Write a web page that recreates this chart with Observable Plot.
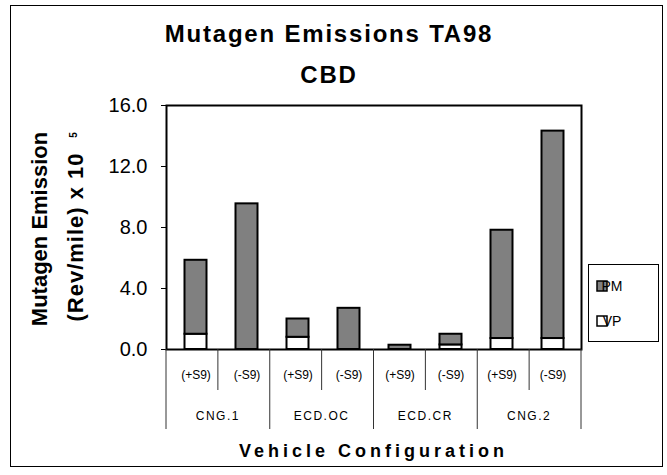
<!DOCTYPE html>
<html><head><meta charset="utf-8">
<script src="https://cdn.jsdelivr.net/npm/d3@7"></script>
<script src="https://cdn.jsdelivr.net/npm/@observablehq/plot@0.6"></script>
<style>body{margin:0;background:#fff} #chart{width:667px;height:475px}</style>
</head><body><div id="chart"></div>
<script>
const groups = ["CNG.1", "ECD.OC", "ECD.CR", "CNG.2"];
const conditions = ["(+S9)", "(-S9)"];
const series = ["PM", "VP"];
const seriesColors = ["#808080", "#ffffff"];
const vpValues = [1.0, 0, 0.8, 0, 0, 0.3, 0.72, 0.72];
const pmValues = [4.85, 9.55, 1.2, 2.7, 0.28, 0.7, 7.1, 13.6];
const yTicks = [0, 4, 8, 12, 16];
const titleLines = ["Mutagen Emissions TA98", "CBD"];
const yTitleLines = ["Mutagen Emission", "(Rev/mile) x 10", "5"];
const xTitle = "Vehicle Configuration";

const FONT = "'Liberation Sans', Arial, Helvetica, sans-serif";
const keys = groups.flatMap(g => conditions.map(c => g + " " + c));
const rows = [];
keys.forEach((k, i) => rows.push({key: k, series: "VP", value: vpValues[i]}));
keys.forEach((k, i) => rows.push({key: k, series: "PM", value: pmValues[i]}));

const chart = Plot.plot({
  width: 667, height: 475,
  marginLeft: 166, marginRight: 86, marginTop: 105, marginBottom: 126,
  style: {fontFamily: FONT, background: "#fff", color: "#000", overflow: "visible"},
  x: {domain: keys, padding: 0, axis: null},
  y: {domain: [0, 16]},
  color: {domain: series, range: seriesColors},
  marks: [
    Plot.barY(rows.filter(d => d.value > 0), {
      x: "key", y: "value", fill: "series", stroke: "#000", strokeWidth: 2,
      insetLeft: 14.5, insetRight: 14.5
    }),
    Plot.frame({stroke: "#000", strokeWidth: 2}),
    Plot.axisY({ticks: yTicks, tickFormat: d3.format(".1f"), tickSize: 5, tickPadding: 14,
      fontSize: 20, label: null, anchor: "left", stroke: "#000", strokeWidth: 1}),
    Plot.text(keys, {x: d => d, text: (d, i) => conditions[i % 2], frameAnchor: "bottom",
      dy: 29, fontSize: 12, fill: "#000"})
  ]
});
document.getElementById("chart").appendChild(chart);

// extras drawn with Plot's own scale descriptors
const sx = chart.scale("x"), sy = chart.scale("y"), sc = chart.scale("color");
const xb = d3.scaleBand().domain(sx.domain).range(sx.range)
  .paddingInner(sx.paddingInner || 0).paddingOuter(sx.paddingOuter || 0);
const step = xb.step();
const y0 = Math.max(...sy.range);
const svg = d3.select(chart);
const g = svg.append("g").attr("font-family", FONT).attr("fill", "#000");

// outer border
g.append("rect").attr("x", 10.5).attr("y", 5.5).attr("width", 652).attr("height", 461)
  .attr("fill", "none").attr("stroke", "#000").attr("stroke-width", 1);

// category table
keys.forEach((k, i) => {
  const x = xb(k);
  const len = i % 2 === 0 ? 80 : 41;
  g.append("line").attr("x1", x).attr("x2", x).attr("y1", y0).attr("y2", y0 + len)
    .attr("stroke", "#333").attr("stroke-width", 1);
});
g.append("line").attr("x1", xb.range()[1]).attr("x2", xb.range()[1]).attr("y1", y0).attr("y2", y0 + 80)
  .attr("stroke", "#333").attr("stroke-width", 1);
groups.forEach((gr, j) => {
  const cx = xb(keys[2 * j]) + step;
  g.append("text").attr("x", cx).attr("y", y0 + 71).attr("text-anchor", "middle")
    .attr("font-size", 12).attr("letter-spacing", 1.5).text(gr);
});

// titles
const tx = 329;
g.append("text").attr("x", tx).attr("y", 42).attr("text-anchor", "middle").attr("font-size", 24)
  .attr("font-weight", "bold").attr("letter-spacing", 1.8).text(titleLines[0]);
g.append("text").attr("x", tx).attr("y", 83).attr("text-anchor", "middle").attr("font-size", 24)
  .attr("font-weight", "bold").attr("letter-spacing", 1.8).text(titleLines[1]);

g.append("text").attr("x", (xb.range()[0] + xb.range()[1]) / 2).attr("y", 457).attr("text-anchor", "middle")
  .attr("font-size", 18).attr("font-weight", "bold").attr("letter-spacing", 4).text(xTitle);

g.append("text").attr("transform", "translate(47,229) rotate(-90)").attr("text-anchor", "middle")
  .attr("font-size", 22).attr("font-weight", "bold").text(yTitleLines[0]);
g.append("text").attr("transform", "translate(83,237) rotate(-90)").attr("text-anchor", "middle")
  .attr("font-size", 22).attr("font-weight", "bold").attr("letter-spacing", 1).text(yTitleLines[1]);
g.append("text").attr("transform", "translate(77,135) rotate(-90)").attr("text-anchor", "middle")
  .attr("font-size", 10).attr("font-weight", "bold").text(yTitleLines[2]);

// legend
const lx = 588, ly = 264;
g.append("rect").attr("x", lx + 0.5).attr("y", ly + 0.5).attr("width", 70).attr("height", 77)
  .attr("fill", "#fff").attr("stroke", "#000").attr("stroke-width", 1);
sc.domain.forEach((s, i) => {
  const yy = ly + 22 + i * 35;
  g.append("rect").attr("x", lx + 9).attr("y", yy - 5).attr("width", 10).attr("height", 10)
    .attr("fill", sc.range[i]).attr("stroke", "#000").attr("stroke-width", 1.5);
  g.append("text").attr("x", lx + 24).attr("y", yy).attr("dy", "0.35em")
    .attr("font-size", 14).text(s);
});
</script>
</body></html>
